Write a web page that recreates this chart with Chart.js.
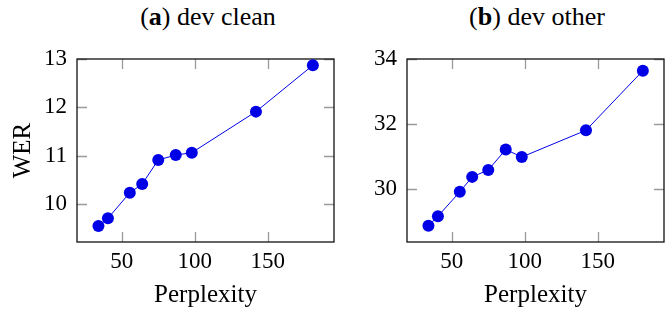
<!DOCTYPE html>
<html>
<head>
<meta charset="utf-8">
<script src="https://cdn.jsdelivr.net/npm/chart.js@4.4.0/dist/chart.umd.min.js"></script>
<style>
  html, body { margin: 0; padding: 0; background: #fff; overflow: hidden; }
  body { width: 665px; height: 309px; position: relative; font-family: 'Liberation Serif', serif; }
  .box { position: absolute; top: 0; width: 340px; height: 309px; }
  .ttl { position: absolute; top: 2px; width: 300px; text-align: center; font-size: 26px; line-height: 30px; color: #000; }
</style>
</head>
<body>
<div class="ttl" style="left:58px">(<b>a</b>) dev clean</div>
<div class="ttl" style="left:387px">(<b>b</b>) dev other</div>
<div class="box" style="left:0"><canvas id="cleanChart"></canvas></div>
<div class="box" style="left:330px"><canvas id="otherChart"></canvas></div>
<script>
// perplexity of each LM (x) and the WER it gives on the two dev sets
const perplexity = [34, 40.5, 55.5, 64, 75, 87, 98, 142, 181];
const werClean = [9.54, 9.70, 10.23, 10.41, 10.91, 11.01, 11.06, 11.91, 12.87];
const werOther = [28.88, 29.17, 29.92, 30.38, 30.59, 31.22, 30.99, 31.81, 33.64];

const xTicks = [50, 100, 150];
const yTicksClean = [10, 11, 12, 13];
const yTicksOther = [30, 32, 34];

const blue = 'rgb(0,0,230)';
const serif = 'Liberation Serif';
Chart.defaults.font.family = serif;

// pgfplots-like frame: box + gray tick marks inside on all four sides
const framePlugin = {
  id: 'frame',
  beforeDatasetsDraw(chart) {
    const {ctx, chartArea: a, scales} = chart;
    const len = 10;
    ctx.save();
    ctx.strokeStyle = '#9a9a9a';
    ctx.lineWidth = 1.3;
    ctx.beginPath();
    scales.x.ticks.forEach(t => {
      const px = Math.round(scales.x.getPixelForValue(t.value)) + 0.5;
      ctx.moveTo(px, a.top); ctx.lineTo(px, a.top + len);
      ctx.moveTo(px, a.bottom); ctx.lineTo(px, a.bottom - len);
    });
    scales.y.ticks.forEach(t => {
      const py = Math.round(scales.y.getPixelForValue(t.value)) + 0.5;
      ctx.moveTo(a.left, py); ctx.lineTo(a.left + len, py);
      ctx.moveTo(a.right, py); ctx.lineTo(a.right - len, py);
    });
    ctx.stroke();
    ctx.strokeStyle = '#111';
    ctx.lineWidth = 1.3;
    ctx.strokeRect(a.left, a.top, a.right - a.left, a.bottom - a.top);
    ctx.restore();
  }
};

function makeChart(id, values, yTicks, yMin, yMax, rightPad) {
  return new Chart(document.getElementById(id), {
    type: 'line',
    data: {
      datasets: [{
        data: perplexity.map((p, i) => ({x: p, y: values[i]})),
        borderColor: blue,
        backgroundColor: blue,
        borderWidth: 1,
        pointRadius: 6,
        pointHoverRadius: 6,
        pointBorderWidth: 0,
        tension: 0
      }]
    },
    options: {
      responsive: true,
      maintainAspectRatio: false,
      animation: false,
      layout: { padding: { top: 59, left: 0, right: rightPad, bottom: 0 } },
      plugins: { legend: { display: false }, tooltip: { enabled: false } },
      scales: {
        x: {
          type: 'linear',
          min: 19.3,
          max: 195.5,
          afterBuildTicks: s => { s.ticks = xTicks.map(v => ({value: v})); },
          afterFit: s => { s.height = 67; },
          grid: { display: false, drawTicks: false },
          border: { display: false },
          ticks: { color: '#000', padding: 6, font: { family: serif, size: 23 } },
          title: { display: true, text: 'Perplexity', color: '#000', padding: { top: 0, bottom: 0 },
                   font: { family: serif, size: 25, lineHeight: 1.1 } }
        },
        y: {
          min: yMin,
          max: yMax,
          afterBuildTicks: s => { s.ticks = yTicks.map(v => ({value: v})); },
          afterFit: s => { s.width = 77; },
          grid: { display: false, drawTicks: false },
          border: { display: false },
          ticks: { color: '#000', padding: 10, font: { family: serif, size: 23 } },
          title: { display: id === 'cleanChart', text: 'WER', color: '#000', padding: { top: 10, bottom: 0 },
                   font: { family: serif, size: 25, lineHeight: 1.1 } }
        }
      }
    },
    plugins: [framePlugin]
  });
}

function drawAll() {
  makeChart('cleanChart', werClean, yTicksClean, 9.21, 13.0, 1);
  makeChart('otherChart', werOther, yTicksOther, 28.38, 34.0, 0);
}

let done = false;
function once() { if (!done) { done = true; drawAll(); } }
document.fonts.load('23px "Liberation Serif"').then(once, once);
setTimeout(once, 1500);
</script>
</body>
</html>
